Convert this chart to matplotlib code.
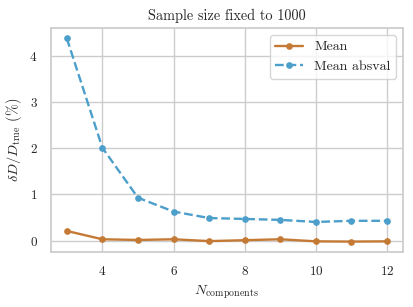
import matplotlib
matplotlib.use("Agg")
import matplotlib.pyplot as plt
import seaborn as sns

sns.set_theme(style="whitegrid")
plt.rcParams['font.family'] = ['serif']
plt.rcParams['font.serif'] = ['cmr10', 'DejaVu Serif']
plt.rcParams['mathtext.fontset'] = 'cm'
plt.rcParams['axes.formatter.use_mathtext'] = True

n_comp = [3, 4, 5, 6, 7, 8, 9, 10, 11, 12]
mean = [0.21, 0.03, 0.015, 0.03, -0.01, 0.01, 0.03, -0.015, -0.02, -0.015]
mean_abs = [4.38, 2.01, 0.93, 0.63, 0.49, 0.47, 0.45, 0.405, 0.43, 0.43]

fig, ax = plt.subplots(figsize=(4.13, 3.07), dpi=100)
ax.plot(n_comp, mean, '-o', color='#c47a34', lw=1.7, ms=3.8, label='Mean')
ax.plot(n_comp, mean_abs, '--o', color='#4c9fcb', lw=1.7, ms=3.8, label='Mean absval')

ax.set_title('Sample size fixed to 1000', fontsize=10.3)
ax.set_xlabel(r'$N_\mathrm{components}$', fontsize=10.3)
ax.set_ylabel(r'$\delta D / D_\mathrm{true}$ (%)', fontsize=10.3)
ax.tick_params(labelsize=9.5)
for s in ax.spines.values():
    s.set_color('#cccccc')
ax.legend(fontsize=10, loc='upper right')

fig.subplots_adjust(left=0.123, right=0.976, top=0.908, bottom=0.18)
fig.savefig('out.png', dpi=100)
